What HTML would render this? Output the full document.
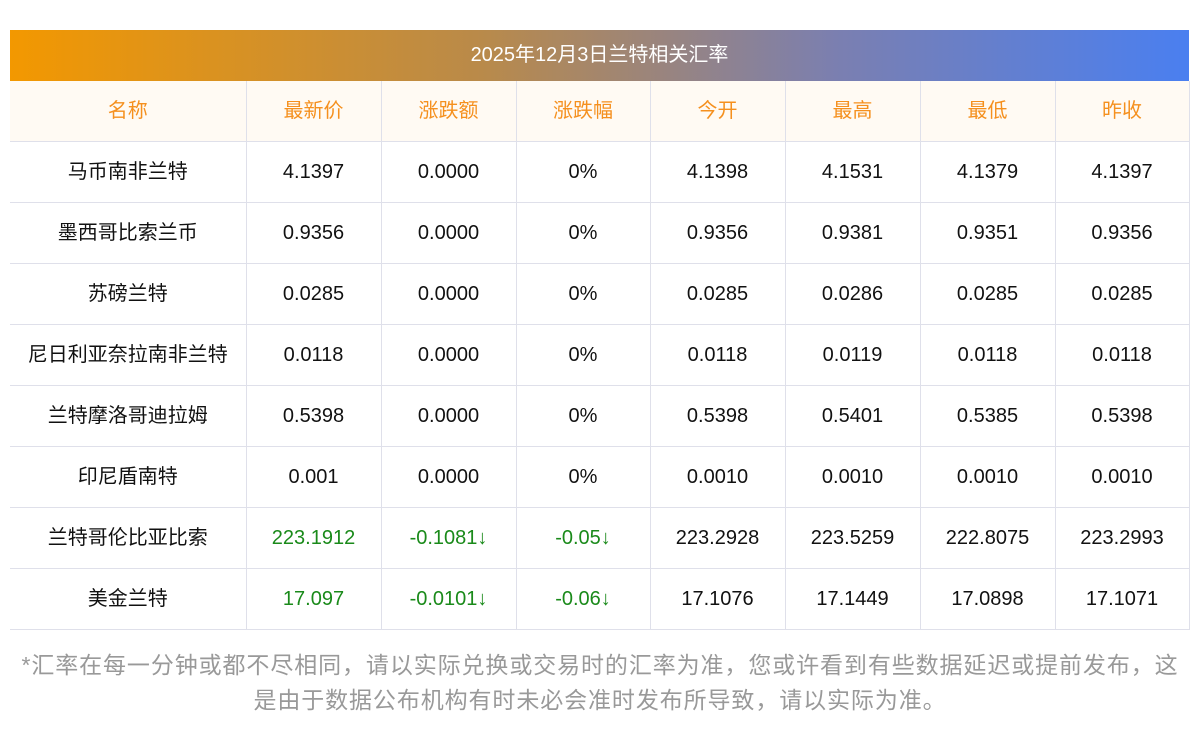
<!DOCTYPE html>
<html><head><meta charset="utf-8"><style>
body{margin:0;width:1200px;height:733px;background:#fff;font-family:"Liberation Sans","Noto Sans CJK SC",sans-serif;position:relative;overflow:hidden}
.title{position:absolute;left:10px;top:30px;width:1179px;height:51px;background:linear-gradient(90deg,#f39800,#b98a4a 40%,#7b7fb0 70%,#4a7ff0);color:#fff;font-size:20px;line-height:51px;text-align:center}
table{position:absolute;left:10px;top:81px;width:1179px;border-collapse:collapse;table-layout:fixed}
td{height:60px;border:1px solid #dfe0ea;text-align:center;font-size:20px;color:#111;padding:0;line-height:24px;vertical-align:middle}
tr td:first-child{border-left:none}
tr.h td{background:#fffaf3;color:#f5901e;border-top:none}
.g{color:#1a8a1a}
.foot{position:absolute;left:16px;top:648px;width:1168px;text-align:center;font-size:23px;line-height:35px;color:#999;letter-spacing:0.9px}
</style></head><body>
<div class="title">2025年12月3日兰特相关汇率</div>
<table>
<colgroup><col style="width:236px"><col style="width:135px"><col style="width:135px"><col style="width:134px"><col style="width:135px"><col style="width:135px"><col style="width:135px"><col style="width:134px"></colgroup>
<tr class="h"><td>名称</td><td>最新价</td><td>涨跌额</td><td>涨跌幅</td><td>今开</td><td>最高</td><td>最低</td><td>昨收</td></tr>
<tr><td>马币南非兰特</td><td>4.1397</td><td>0.0000</td><td>0%</td><td>4.1398</td><td>4.1531</td><td>4.1379</td><td>4.1397</td></tr>
<tr><td>墨西哥比索兰币</td><td>0.9356</td><td>0.0000</td><td>0%</td><td>0.9356</td><td>0.9381</td><td>0.9351</td><td>0.9356</td></tr>
<tr><td>苏磅兰特</td><td>0.0285</td><td>0.0000</td><td>0%</td><td>0.0285</td><td>0.0286</td><td>0.0285</td><td>0.0285</td></tr>
<tr><td>尼日利亚奈拉南非兰特</td><td>0.0118</td><td>0.0000</td><td>0%</td><td>0.0118</td><td>0.0119</td><td>0.0118</td><td>0.0118</td></tr>
<tr><td>兰特摩洛哥迪拉姆</td><td>0.5398</td><td>0.0000</td><td>0%</td><td>0.5398</td><td>0.5401</td><td>0.5385</td><td>0.5398</td></tr>
<tr><td>印尼盾南特</td><td>0.001</td><td>0.0000</td><td>0%</td><td>0.0010</td><td>0.0010</td><td>0.0010</td><td>0.0010</td></tr>
<tr><td>兰特哥伦比亚比索</td><td class="g">223.1912</td><td class="g">-0.1081↓</td><td class="g">-0.05↓</td><td>223.2928</td><td>223.5259</td><td>222.8075</td><td>223.2993</td></tr>
<tr><td>美金兰特</td><td class="g">17.097</td><td class="g">-0.0101↓</td><td class="g">-0.06↓</td><td>17.1076</td><td>17.1449</td><td>17.0898</td><td>17.1071</td></tr>
</table>
<div class="foot">*汇率在每一分钟或都不尽相同，请以实际兑换或交易时的汇率为准，您或许看到有些数据延迟或提前发布，这是由于数据公布机构有时未必会准时发布所导致，请以实际为准。</div>
</body></html>
